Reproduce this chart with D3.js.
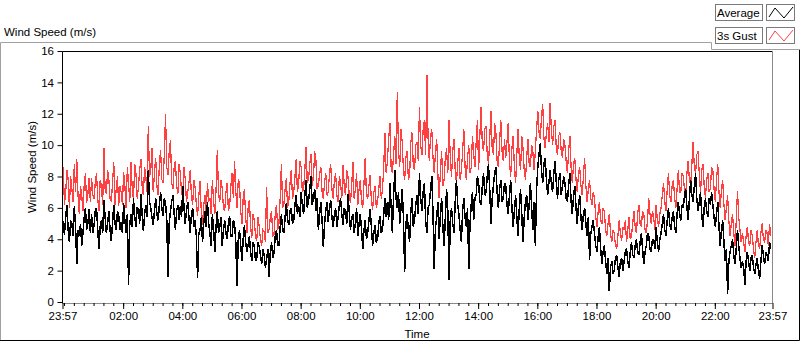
<!DOCTYPE html>
<html>
<head>
<meta charset="utf-8">
<script src="https://cdn.jsdelivr.net/npm/d3@7"></script>
<style>
  html, body { margin: 0; padding: 0; background: #ffffff; }
  svg { display: block; }
  text { font-family: "Liberation Sans", Arial, sans-serif; fill: #000; }
</style>
</head>
<body>
<svg id="chart" width="800" height="342"></svg>
<script>
// ---- data (2.5-minute samples from 23:57 to 23:54:30 next day), one row per hour ----
const sampleMinutes = 2.5;
const gustSpeed = [
  7.5,8.6,6.2,7.0,8.4,7.8,6.0,8.0,7.2,6.4,8.8,7.0,9.1,6.8,5.6,7.4,6.8,5.8,7.5,8.2,6.3,6.9,7.9,6.4,
  7.9,6.8,6.6,7.6,8.2,6.6,5.8,7.8,7.4,6.2,9.8,7.2,6.9,8.4,7.8,6.6,6.4,7.6,8.9,6.2,7.2,8.0,6.1,7.4,
  7.0,6.2,8.3,7.4,6.0,8.6,7.6,6.4,8.9,7.2,6.5,8.8,8.2,6.6,7.3,8.4,9.1,7.4,6.8,8.6,8.0,7.0,11.2,8.0,
  8.4,9.8,7.0,8.2,9.2,7.4,6.8,8.8,9.7,7.8,7.6,9.4,12.0,8.6,8.1,9.6,10.3,7.6,7.2,8.6,9.0,7.4,6.9,8.8,
  8.2,7.0,6.6,8.6,7.8,6.4,7.0,7.6,8.4,6.8,6.2,7.8,7.3,6.2,5.5,6.8,7.7,5.8,4.9,6.2,6.8,5.6,7.6,6.4,
  6.6,5.6,7.8,6.4,5.6,7.2,9.7,6.8,6.4,7.8,7.2,6.0,5.8,7.0,7.6,5.8,6.1,7.4,8.2,6.6,9.0,7.0,6.0,7.8,
  7.6,5.8,5.0,6.6,7.2,5.4,4.4,6.0,6.5,4.8,4.1,5.6,5.2,4.2,3.9,5.4,4.8,4.0,3.6,4.6,4.5,3.8,7.3,4.4,
  4.6,5.4,5.8,4.2,4.3,5.6,6.2,4.6,5.0,6.6,8.8,6.0,6.2,7.2,7.9,6.0,6.4,7.6,8.4,6.6,7.0,8.0,9.1,7.0,
  7.6,9.0,8.6,7.0,7.2,8.4,9.9,7.6,7.8,8.8,9.4,7.4,8.0,9.6,9.0,7.2,7.4,8.2,8.6,7.0,6.6,7.6,8.2,6.8,
  7.0,8.2,8.8,7.2,6.6,7.8,8.2,6.8,6.4,8.0,7.6,6.6,8.7,7.4,6.8,8.4,8.0,6.8,6.3,7.4,8.9,6.6,7.2,8.2,
  6.2,7.2,7.8,6.4,6.0,7.6,9.2,6.8,6.6,7.4,8.1,6.4,5.9,7.0,7.4,6.0,6.4,7.2,8.0,6.6,7.2,8.6,10.8,8.2,
  9.0,10.4,11.4,8.6,8.2,9.4,10.6,8.8,13.4,9.6,8.6,11.0,10.2,8.4,7.8,9.2,9.6,7.8,8.0,10.2,10.8,8.6,8.4,10.0,
  10.2,9.0,12.4,10.0,9.4,11.0,11.6,9.4,14.5,10.4,9.0,10.6,11.0,9.2,8.2,9.6,10.4,8.0,6.6,8.4,9.6,7.4,7.8,9.2,
  9.8,8.2,11.6,9.2,8.0,9.6,10.4,8.4,7.6,8.8,9.8,7.8,8.4,9.6,11.0,8.6,7.8,9.2,10.0,8.2,8.6,10.6,9.4,8.6,
  10.2,11.6,8.4,10.6,12.4,10.0,9.6,11.0,11.2,9.4,8.8,10.4,12.2,9.8,9.4,11.4,10.8,9.0,8.6,10.2,11.6,9.6,9.0,10.4,
  9.2,10.2,11.4,9.0,8.0,9.8,10.6,8.6,7.6,9.4,11.0,9.2,8.4,10.6,9.8,8.4,7.8,9.2,10.4,8.8,8.6,10.0,9.6,8.4,
  9.6,11.0,12.2,10.8,10.4,11.8,12.6,10.4,9.8,10.8,11.4,10.2,12.7,11.0,10.0,11.2,11.6,9.8,9.4,10.6,10.8,9.6,9.2,10.4,
  10.0,9.0,8.2,9.6,10.6,8.6,7.6,8.8,9.2,7.8,7.0,8.2,8.6,7.4,6.8,8.0,9.2,7.4,6.4,7.2,7.8,6.6,6.2,7.0,
  6.6,5.4,4.8,5.8,6.4,5.2,5.0,6.0,5.8,4.6,4.2,5.0,5.6,4.4,3.8,4.6,4.4,3.6,3.4,4.2,5.2,4.4,3.9,4.8,
  4.6,5.2,3.8,4.6,5.4,4.0,4.2,5.0,5.8,4.8,4.4,5.6,6.2,5.0,4.8,5.8,5.6,4.6,4.4,5.2,6.6,5.6,5.0,5.8,
  5.4,4.6,6.2,5.2,4.8,5.6,6.0,6.8,7.6,6.4,5.8,7.2,8.2,6.8,6.4,7.4,7.8,6.6,6.0,7.2,8.4,7.0,7.0,8.2,
  8.0,7.2,6.8,8.2,9.0,7.8,7.4,8.8,10.2,8.6,8.2,9.4,9.6,8.2,7.0,8.4,8.8,7.4,6.6,7.8,8.2,7.0,7.2,8.6,
  8.4,7.2,6.4,7.8,8.8,7.0,6.0,7.2,7.8,6.2,5.2,6.0,6.8,5.2,4.2,5.0,5.6,4.4,3.6,5.2,7.1,5.4,4.6,3.8,
  4.4,3.8,3.2,4.2,4.8,3.8,3.6,4.6,4.2,3.4,2.8,3.8,4.6,3.6,3.4,4.4,5.0,4.0,3.8,4.6,4.4,3.6,5.0,4.2
];
const averageSpeed = [
  5.8,4.8,4.3,5.4,6.2,4.6,3.8,5.2,5.0,4.2,6.1,4.8,2.4,4.6,4.2,5.0,3.6,4.4,5.4,6.0,4.6,5.0,5.9,4.4,
  5.6,4.4,4.9,5.8,6.0,4.6,3.4,4.8,5.2,4.4,6.5,5.4,4.4,5.0,5.8,4.6,3.9,5.0,6.2,5.0,4.6,5.8,5.5,4.6,
  5.1,4.4,6.3,5.2,4.4,5.6,1.1,5.0,5.6,4.8,6.6,5.4,4.8,6.0,5.9,5.0,6.9,5.6,4.5,5.6,6.2,5.4,8.4,6.4,
  6.0,5.4,4.9,5.8,6.6,5.6,5.2,6.2,7.0,6.0,5.5,6.6,6.3,5.2,1.6,5.0,5.8,6.4,6.8,5.6,4.6,5.8,6.2,5.2,
  6.1,5.4,7.4,6.0,5.0,5.8,6.4,5.4,4.4,5.6,6.0,4.8,5.2,4.2,1.5,4.4,4.6,5.4,3.8,5.0,5.8,4.8,6.4,5.0,
  4.4,3.6,5.6,4.6,3.2,4.8,5.8,4.4,4.8,5.4,3.6,4.6,5.2,4.4,4.0,5.0,5.5,4.2,4.2,5.2,5.0,3.8,1.0,4.0,
  4.6,3.6,2.6,4.0,4.9,3.8,3.2,3.6,4.2,3.2,2.6,3.8,3.6,2.6,2.8,3.8,3.5,3.0,2.4,3.4,3.0,2.2,2.7,3.4,
  1.6,3.2,3.8,2.8,3.1,4.2,4.6,3.6,3.6,4.8,5.6,4.6,4.4,5.4,6.3,5.2,4.9,5.8,6.0,5.0,5.2,6.2,6.8,5.6,
  6.1,5.4,7.0,6.2,5.6,6.8,7.8,6.0,6.4,7.2,8.0,6.2,6.6,7.2,5.8,6.6,4.6,5.6,6.4,5.2,3.5,5.0,5.8,6.4,
  5.1,6.0,6.5,5.4,4.8,5.6,6.0,4.8,5.4,6.2,6.6,5.6,4.9,6.0,5.8,5.0,6.9,5.8,4.6,5.4,5.6,4.4,5.0,6.0,
  4.2,5.0,5.6,4.6,3.4,4.6,5.2,4.0,4.4,5.2,5.9,4.8,3.6,4.4,4.9,3.8,4.0,5.0,5.5,4.4,4.6,5.6,6.6,5.4,
  6.4,5.2,7.6,6.2,4.4,6.8,8.4,6.6,6.0,7.0,5.0,6.0,7.2,5.4,1.9,5.0,5.6,4.6,3.8,5.8,6.6,4.8,5.2,6.2,
  6.8,5.6,8.2,6.6,5.8,7.0,7.6,5.2,4.4,6.0,6.2,7.2,8.0,5.6,2.1,4.8,5.4,6.4,4.0,5.6,6.6,4.8,3.6,5.4,
  7.2,5.8,1.4,5.2,6.0,5.0,4.4,6.4,7.8,6.2,5.6,4.6,3.8,5.8,6.6,5.4,4.8,6.0,2.1,5.0,6.2,7.0,5.2,6.6,
  6.8,8.0,7.6,6.4,6.2,7.4,8.2,6.8,7.0,8.0,8.8,7.2,5.0,6.6,7.4,8.2,8.6,7.0,6.0,7.2,7.8,6.4,6.6,7.6,
  7.4,6.2,5.6,6.8,7.8,6.0,4.8,5.8,6.8,5.4,4.2,6.0,7.2,5.6,3.8,5.4,6.4,6.8,5.2,6.2,7.6,6.0,4.6,6.4,
  3.6,7.2,8.6,9.4,10.1,8.4,7.6,8.8,9.2,7.8,6.8,7.6,8.4,7.6,7.0,8.2,9.0,7.6,6.6,7.8,8.2,6.8,7.4,8.0,
  7.6,6.6,6.4,7.4,8.2,6.4,5.6,6.8,7.4,6.0,5.0,6.2,6.8,5.4,4.6,5.6,6.0,5.0,4.2,5.4,2.7,4.4,4.8,5.2,
  4.4,3.6,3.2,4.2,4.8,3.4,2.4,3.2,3.6,2.6,1.8,2.8,0.7,2.2,2.6,1.8,2.0,2.8,3.0,2.2,1.6,2.6,2.8,2.0,
  2.6,3.2,3.4,2.6,2.2,3.2,3.8,3.0,2.8,3.6,4.0,3.2,3.0,3.8,4.4,3.4,2.4,3.2,3.6,4.4,4.2,3.4,3.2,4.0,
  4.0,3.4,4.8,3.8,3.2,4.0,4.4,5.0,5.6,4.6,4.2,5.2,6.0,5.0,4.6,5.4,5.8,4.8,4.4,5.6,6.4,5.6,5.2,6.2,
  6.0,6.8,7.2,6.0,5.2,6.6,7.8,6.8,6.4,7.4,8.2,6.6,5.8,6.4,7.0,5.6,4.8,6.0,6.6,5.8,5.4,6.6,6.2,7.0,
  6.2,5.4,4.8,5.6,6.4,4.8,3.6,4.6,5.2,3.8,2.6,3.4,0.5,2.6,3.2,3.6,4.0,3.0,2.4,3.4,4.6,3.6,2.8,2.2,
  2.6,2.2,1.1,2.6,3.2,2.6,2.0,2.8,3.0,2.2,1.8,2.4,2.8,2.0,1.5,2.6,3.6,3.0,2.4,3.2,3.0,2.6,3.8,3.4
];
const yTickValues = [0, 2, 4, 6, 8, 10, 12, 14, 16];
const xMajorLabels = ["23:57", "02:00", "04:00", "06:00", "08:00", "10:00", "12:00",
                      "14:00", "16:00", "18:00", "20:00", "22:00", "23:57"];
const seriesNames = ["Average", "3s Gust"];
const seriesColors = ["#000000", "#ff4040"];

// ---- scales ----
const startTime = new Date(2000, 0, 1, 23, 57);
const endTime = new Date(2000, 0, 2, 23, 57);
const timeAt = i => new Date(startTime.getTime() + i * sampleMinutes * 60000);

const plot = { left: 62, right: 772, top: 51, bottom: 302 };
const x = d3.scaleTime().domain([startTime, endTime]).range([plot.left, plot.right]);
const y = d3.scaleLinear().domain([0, 16]).range([plot.bottom, plot.top]);

const svg = d3.select("#chart");

// ---- outer panel frame ----
svg.append("path").attr("d", "M0.5,340 V42.5 H711.5 V49.5 H800")
  .attr("fill", "none").attr("stroke", "#a0a0a0");
svg.append("path").attr("d", "M0,340.5 H799.5 V50")
  .attr("fill", "none").attr("stroke", "#000");

svg.append("text").attr("x", 4).attr("y", 36).style("font-size", "11.5px")
  .text("Wind Speed (m/s)");

// ---- legend ----
const legend = svg.append("g");
seriesNames.forEach((name, k) => {
  const top = 4 + k * 23;
  legend.append("rect").attr("x", 715.5).attr("y", top + 0.5).attr("width", 47).attr("height", 16)
    .attr("fill", "#fff").attr("stroke", "#7a7a7a");
  legend.append("text").attr("x", 717).attr("y", top + 13).style("font-size", "11.5px").text(name);
  legend.append("rect").attr("x", 766.5).attr("y", top + 0.5).attr("width", 28).attr("height", 16)
    .attr("fill", "#fff").attr("stroke", "#7a7a7a");
  legend.append("path")
    .attr("d", `M769,${top + 13} L775,${top + 4} L784,${top + 14} L793,${top + 3}`)
    .attr("fill", "none").attr("stroke", seriesColors[k]).attr("stroke-width", 1);
});

// ---- series ----
const line = d3.line().x((d, i) => x(timeAt(i))).y(d => y(d));
svg.append("clipPath").attr("id", "clip").append("rect")
  .attr("x", plot.left).attr("y", plot.top).attr("width", plot.right - plot.left).attr("height", plot.bottom - plot.top);

const series = svg.append("g").attr("clip-path", "url(#clip)");
series.append("path").datum(gustSpeed).attr("d", line)
  .attr("fill", "none").attr("stroke", seriesColors[1]).attr("stroke-width", 1.25)
  .attr("shape-rendering", "crispEdges");
series.append("path").datum(averageSpeed).attr("d", line)
  .attr("fill", "none").attr("stroke", seriesColors[0]).attr("stroke-width", 1.5)
  .attr("shape-rendering", "crispEdges");

// ---- plot frame ----
svg.append("path").attr("d", `M${plot.left + 0.5},${plot.bottom + 1} V${plot.top + 0.5} H${plot.right + 0.5}`)
  .attr("fill", "none").attr("stroke", "#000");
svg.append("path").attr("d", `M${plot.right + 0.5},${plot.top + 0.5} V${plot.bottom + 1.5} H${plot.left}`)
  .attr("fill", "none").attr("stroke", "#8a8a8a");

// ---- y axis ----
const yAxis = d3.axisLeft(y).tickValues(yTickValues).tickSize(5).tickPadding(3).tickFormat(d3.format("d"));
const yg = svg.append("g").attr("transform", `translate(${plot.left},0)`).call(yAxis);
yg.select(".domain").remove();
yg.selectAll("line").attr("stroke", "#000").attr("transform", "translate(0.5,0)");
yg.selectAll("text").style("font-size", "11.5px").style("font-family", "Liberation Sans, Arial, sans-serif");

// ---- x axis ----
const majorTimes = xMajorLabels.map((lab, k) => {
  if (k === 0) return startTime;
  if (k === xMajorLabels.length - 1) return endTime;
  const [hh, mm] = lab.split(":").map(Number);
  return new Date(2000, 0, 2, hh, mm);
});
const minorTimes = d3.timeMinute.every(20).range(startTime, endTime);

const xMinor = d3.axisBottom(x).tickValues(minorTimes).tickSize(3).tickFormat("");
const xm = svg.append("g").attr("transform", `translate(0.5,${plot.bottom + 1})`).call(xMinor);
xm.select(".domain").remove();

const xMajor = d3.axisBottom(x).tickValues(majorTimes).tickSize(6).tickPadding(3)
  .tickFormat((d, k) => xMajorLabels[k]);
const xg = svg.append("g").attr("transform", `translate(0.5,${plot.bottom + 1})`).call(xMajor);
xg.select(".domain").remove();
xg.selectAll("text").style("font-size", "11.5px").style("font-family", "Liberation Sans, Arial, sans-serif");

// ---- axis titles ----
svg.append("text").attr("x", 417).attr("y", 338).attr("text-anchor", "middle")
  .style("font-size", "11.5px").text("Time");
svg.append("text").attr("transform", "translate(36,167) rotate(-90)").attr("text-anchor", "middle")
  .style("font-size", "11.5px").text("Wind Speed (m/s)");
</script>
</body>
</html>
